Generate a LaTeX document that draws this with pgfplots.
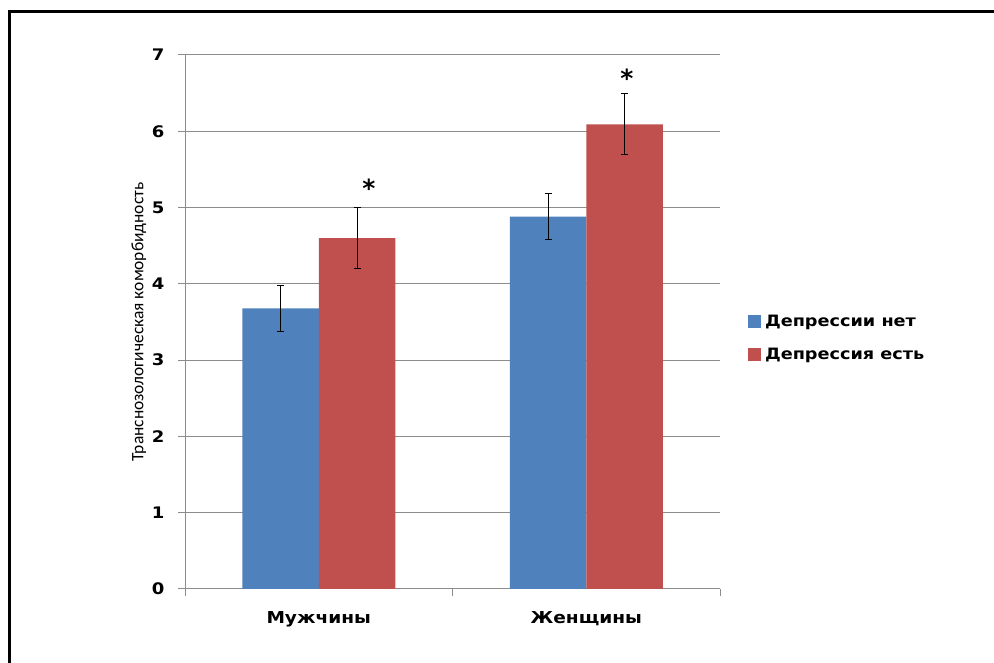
\documentclass[border=0pt]{standalone}
\usepackage{fontspec}
\setmainfont{DejaVu Sans}
\newfontfamily\labelfont{Carlito}
\newfontfamily\widebold[FakeStretch=1.13]{DejaVu Sans Bold}
\usepackage{pgfplots}
\pgfplotsset{compat=1.18}
\definecolor{barblue}{HTML}{4F81BD}
\definecolor{barred}{HTML}{C0504D}
\definecolor{gridgray}{HTML}{8C8C8C}

\begin{document}
\begin{tikzpicture}[x=1bp,y=1bp]
\useasboundingbox (0,0) rectangle (994,663);
% frame on the top and left edges
\draw[line width=3bp] (9.5,0) -- (9.5,651.5) -- (994,651.5);
\begin{axis}[
  at={(185bp,74bp)}, anchor=south west,
  width=535bp, height=534bp, scale only axis,
  ymin=0, ymax=7, ytick={0,...,7},
  xmin=-0.5, xmax=1.5,
  xtick={-0.5,0.5,1.5}, xticklabels={},
  extra x ticks={0,1},
  extra x tick labels={Мужчины,Женщины},
  extra x tick style={major tick length=0pt, grid=none,
    tick label style={yshift=-19bp, font=\widebold\fontsize{16.5}{19}\selectfont}},
  axis x line*=bottom, axis y line*=left,
  axis line style={gridgray, line width=1bp},
  ymajorgrids, grid style={gridgray, line width=1bp},
  tick style={gridgray, line width=1bp},
  tick align=outside, major tick length=7bp,
  /pgf/number format/assume math mode=true,
  tick label style={font=\widebold\fontsize{16}{18}\selectfont},
  yticklabel style={xshift=-10bp},
  ylabel={Транснозологическая коморбидность},
  ylabel style={font=\labelfont\fontsize{17.5}{19}\selectfont,
    at={(axis description cs:-0.086,0.5)}, anchor=center},
  ybar=0pt, bar width=76.5bp,
  legend style={draw=none, fill=none, at={(1.052,0.47)}, anchor=west,
    font=\widebold\fontsize{15.7}{18}\selectfont, inner sep=0pt,
    row sep=17bp},
  legend cell align=left,
  legend image code/.code={\fill[#1] (0bp,-6.5bp) rectangle (13bp,6.5bp);},
  error bars/y dir=both, error bars/y explicit,
  error bars/error bar style={black, line width=0.9bp},
  error bars/error mark options={black, line width=0.9bp, mark size=3.5bp, rotate=90},
]
\addplot[fill=barblue, draw=none] coordinates {
  (0,3.68) +- (0,0.30)
  (1,4.88) +- (0,0.30)
};
\addplot[fill=barred, draw=none] coordinates {
  (0,4.60) +- (0,0.40)
  (1,6.09) +- (0,0.40)
};
\legend{\hspace{2bp}Депрессии нет, \hspace{2bp}Депрессия есть}
\node[font=\bfseries\fontsize{25}{25}\selectfont] at (axis cs:0.187,5.25) {*};
\node[font=\bfseries\fontsize{25}{25}\selectfont] at (axis cs:1.152,6.69) {*};
\end{axis}
\end{tikzpicture}
\end{document}
